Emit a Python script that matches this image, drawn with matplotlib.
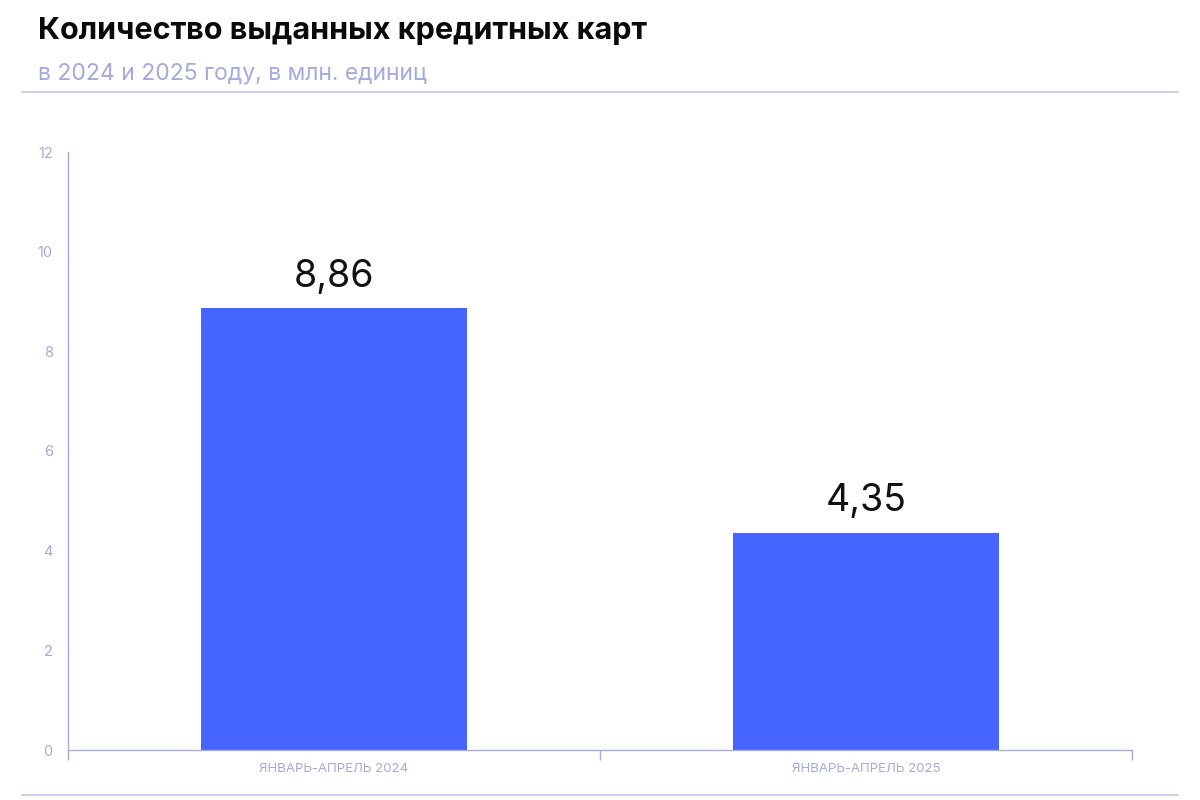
import matplotlib.pyplot as plt
from matplotlib.lines import Line2D

categories = ['ЯНВАРЬ-АПРЕЛЬ 2024', 'ЯНВАРЬ-АПРЕЛЬ 2025']
values = [8.86, 4.35]
value_labels = ['8,86', '4,35']
y_ticks = [0, 2, 4, 6, 8, 10, 12]

title = 'Количество выданных кредитных карт'
subtitle = 'в 2024 и 2025 году, в млн. единиц'

bar_color = '#4664ff'
muted = '#a6aad8'
rule = '#c5c7e3'

plt.rcParams['font.family'] = ['Inter', 'DejaVu Sans']

fig = plt.figure(figsize=(12, 8), dpi=100)
ax = fig.add_axes([68 / 1200, 1 - 750 / 800, (1132 - 68) / 1200, (750 - 152) / 800])

xs = list(range(len(categories)))
ax.bar(xs, values, width=0.5, color=bar_color, zorder=2)
for x, v, lab in zip(xs, values, value_labels):
    ax.annotate(lab, (x, v), xytext=(0, 10), textcoords='offset points',
                ha='center', va='bottom', fontsize=27, color='#111111')

ax.set_xlim(-0.5, len(categories) - 0.5)
ax.set_ylim(0, 12)

# boundaries between categories get the tick marks, labels sit in the middle
ax.set_xticks([i - 0.5 for i in range(len(categories) + 1)])
ax.set_xticklabels([])
ax.tick_params(axis='x', which='major', length=7, width=1, color=muted, direction='out')
ax.set_xticks(xs, minor=True)
ax.set_xticklabels(categories, minor=True, fontsize=9.5, color=muted)
ax.tick_params(axis='x', which='minor', length=0, pad=9)

ax.set_yticks(y_ticks)
ax.set_yticklabels([str(t) for t in y_ticks], fontsize=10.5, color=muted)
ax.tick_params(axis='y', length=0, pad=11)

for s in ['top', 'right']:
    ax.spines[s].set_visible(False)
for s in ['left', 'bottom']:
    ax.spines[s].set_color(muted)
    ax.spines[s].set_linewidth(1)

fig.text(38 / 1200, 1 - 31 / 800, title, fontsize=22, fontweight='bold',
         color='#0a0a0a', va='center', ha='left')
fig.text(38 / 1200, 1 - 73 / 800, subtitle, fontsize=16.5,
         color=muted, va='center', ha='left')

fig.add_artist(Line2D([22 / 1200, 1178 / 1200], [1 - 92 / 800] * 2, color=rule, lw=1.2))
fig.add_artist(Line2D([22 / 1200, 1178 / 1200], [1 - 795 / 800] * 2, color=rule, lw=1.2))

fig.savefig('out.png', dpi=100, facecolor='white')
